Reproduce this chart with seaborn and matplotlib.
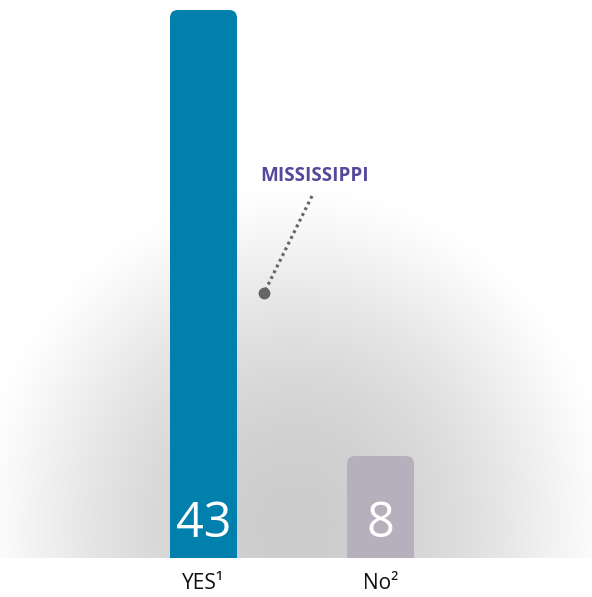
import numpy as np
import matplotlib
matplotlib.use("Agg")
import matplotlib.pyplot as plt
import seaborn as sns
from matplotlib.patches import FancyBboxPatch
from matplotlib.lines import Line2D

categories = ["YES", "No"]
tick_labels = ["YES¹", "No²"]
values = [43, 8]
bar_colors = ["#0180AE", "#B6B0BD"]
annotation_label = "MISSISSIPPI"

sns.set_style("white")
plt.rcParams["font.family"] = ["Open Sans", "DejaVu Sans"]

W, H = 592, 597
fig = plt.figure(figsize=(W / 100, H / 100), dpi=100)
fig.patch.set_facecolor("white")
ax_bottom_px = 558
ax = fig.add_axes([0, (H - ax_bottom_px) / H, 1, ax_bottom_px / H])

# scales
bar_w = 0.3785
px_per_x = 177.0
px_per_y = 548.0 / 43
x0_px = 203.5
xlim = (-x0_px / px_per_x, (W - x0_px) / px_per_x)
ylim = (0, ax_bottom_px / px_per_y)

# radial gradient background (axes area)
nx, ny = W, ax_bottom_px
gx = np.arange(nx) + 0.5
gy = np.arange(ny) + 0.5
GX, GY = np.meshgrid(gx, gy)
cx, cy, rx, ry = 295, 525, 320, 340
r = np.sqrt(((GX - cx) / rx) ** 2 + ((GY - cy) / ry) ** 2)
r = np.clip(r, 0, 1)
g = 1 - (50 / 255) * (1 - r ** 2) ** 1.3
img = np.dstack([g, g, g])
ax.imshow(img, extent=(xlim[0], xlim[1], ylim[0], ylim[1]), origin="upper",
          aspect="auto", zorder=0, interpolation="bilinear")

sns.barplot(x=categories, y=values, hue=categories, palette=bar_colors,
            width=bar_w, legend=False, ax=ax, saturation=1, zorder=2)

ax.set_xlim(*xlim)
ax.set_ylim(*ylim)

# rounded top corners
rad_px = 8
rx_d = rad_px / px_per_x
asp = px_per_x / px_per_y
for p in list(ax.patches):
    x, y, w, h = p.get_x(), p.get_y(), p.get_width(), p.get_height()
    extra = 2 * rad_px / px_per_y
    fb = FancyBboxPatch((x, y - extra), w, h + extra,
                        boxstyle=f"round,pad=0,rounding_size={rx_d}",
                        mutation_aspect=asp, fc=p.get_facecolor(), ec="none",
                        zorder=2, clip_on=True)
    ax.add_patch(fb)
    p.set_visible(False)

# value labels at bar bottoms
for i, v in enumerate(values):
    ax.annotate(str(v), xy=(i, 0), xytext=(0, 24.5), textcoords="offset points",
                ha="center", va="center", color="white", fontsize=35, zorder=3)

ax.set_xticks(range(len(categories)))
ax.set_xticklabels(tick_labels, fontsize=15, color="#111111")
ax.tick_params(axis="x", length=0, pad=10.5)
ax.set_yticks([])
for s in ax.spines.values():
    s.set_visible(False)

# annotation
def fp(px, py):
    return (px, H - py)

ax.annotate(annotation_label, xy=fp(314.5, 176), xycoords="figure pixels",
            ha="center", va="center", fontsize=13.6, fontweight="bold",
            color="#56489A")
(lx0, ly0), (lx1, ly1) = fp(312, 196), fp(264, 293)
line = Line2D([lx0 / W, lx1 / W], [ly0 / H, ly1 / H], transform=fig.transFigure,
              color="#666666", lw=2.3, linestyle=(0, (0.9, 1.1)), zorder=5)
fig.add_artist(line)
dot = Line2D([lx1 / W], [ly1 / H], transform=fig.transFigure, marker="o",
             markersize=7.5, color="#666666", zorder=6)
fig.add_artist(dot)

fig.savefig("out.png", dpi=100, facecolor="white")
